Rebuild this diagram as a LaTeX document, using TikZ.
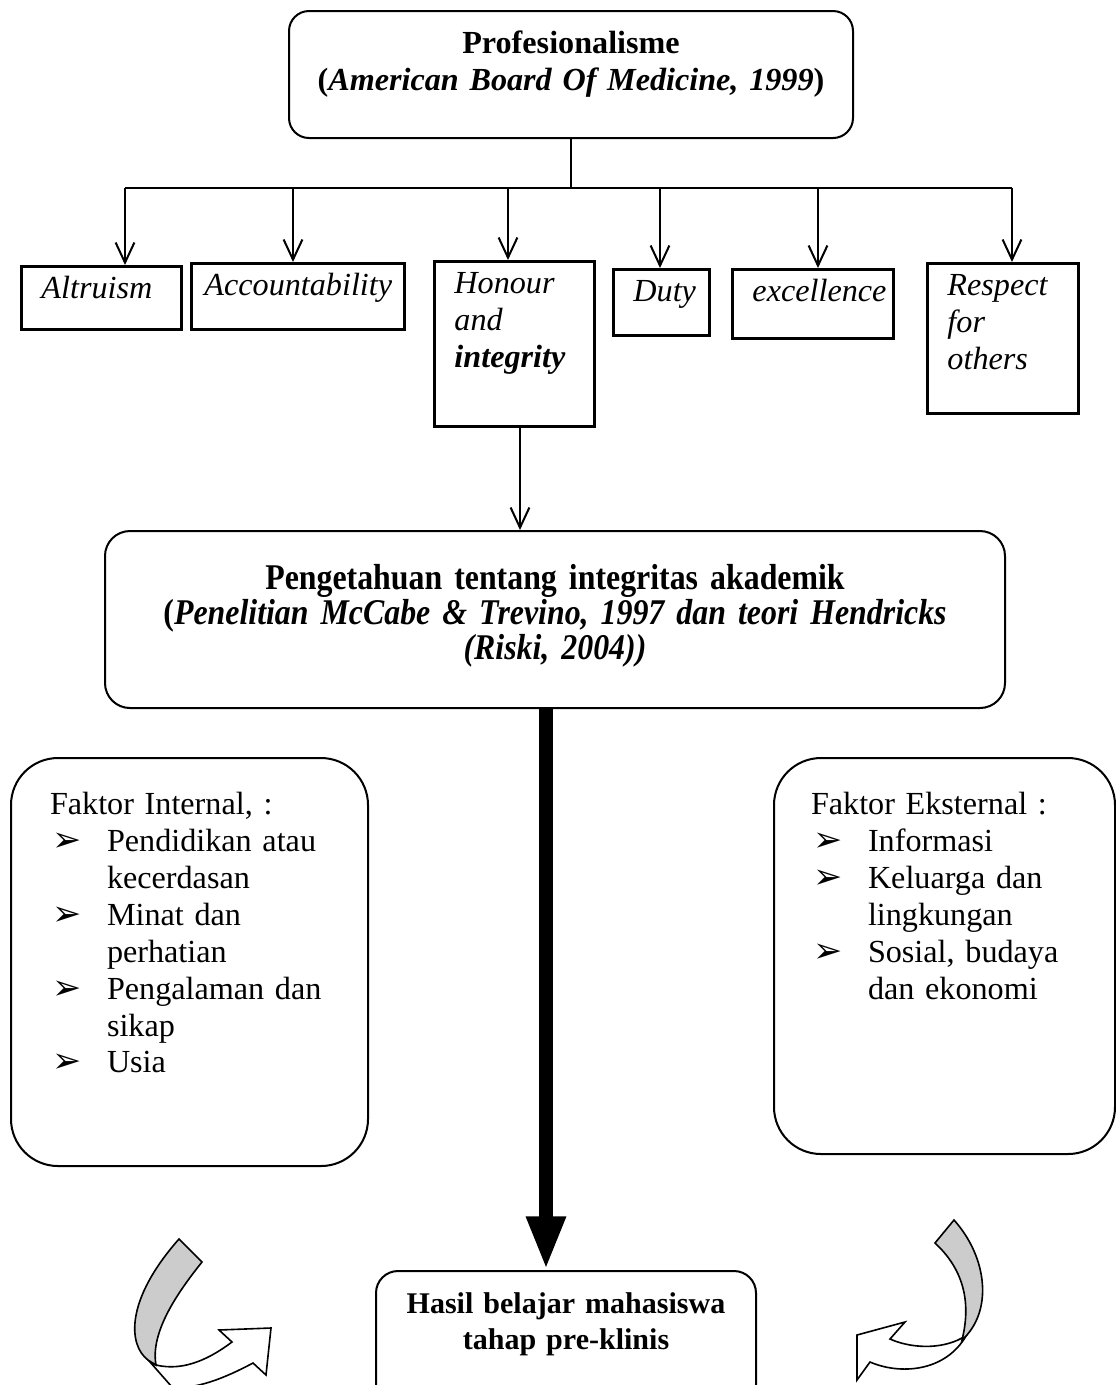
\documentclass[tikz,border=0pt]{standalone}
\usepackage{fontspec}
\setmainfont{Liberation Serif}
\newfontfamily\narrowfont[FakeStretch=0.88,WordSpace=0.8]{Liberation Serif}
\newfontfamily\symfont{DejaVu Sans}
\usepackage{tikz}
\usetikzlibrary{arrows.meta}
\newlength{\pix}
\setlength{\pix}{0.373pt}
\newcommand{\bul}{{\symfont\fontsize{13}{13.8}\selectfont ➢}}
\newcommand{\itm}[1]{\hspace*{2\pix}\makebox[55\pix][l]{\bul}#1}
\newcommand{\cnt}[1]{\hspace*{57\pix}#1}

\begin{document}
\fontsize{12}{13.8}\selectfont
\begin{tikzpicture}[x=0.373pt,y=-0.373pt,
	conn/.style={line width=0.75pt},
	arr/.style={conn, -{Straight Barb[length=7.5pt,width=7pt]}},
	big/.style={line width=5.2pt, -{Triangle[width=13.5pt,length=20pt]}},
	vbox/.style={draw, line width=1.1pt, anchor=north west, align=left, font=\itshape, inner xsep=20\pix, inner ysep=10\pix, text height=22\pix},
	rbox/.style={draw, line width=0.75pt, rounded corners=20\pix, anchor=north west, align=center, font=\bfseries, inner xsep=20\pix},
	fbox/.style={draw, line width=0.75pt, rounded corners=47\pix, anchor=north west, align=left, inner ysep=20\pix, text height=36\pix},
	curl/.style={line width=0.6pt}]
			\path[use as bounding box, clip] (0,0) rectangle (1116,1385);
			
			\node[rbox, text width=524\pix, inner ysep=16\pix, text height=26\pix, text depth=69\pix](prof) at (288,10) {Profesionalisme\\(\textit{American Board Of Medicine, 1999})};
			
			\coordinate[](a1) at (125,188);
			\coordinate[](a2) at (293,188);
			\coordinate[](a3) at (508,188);
			\coordinate[](a4) at (660,188);
			\coordinate[](a5) at (818,188);
			\coordinate[](a6) at (1012,188);
			
			\node[vbox, text width=120\pix, text depth=21\pix](altruism) at (20,265) {Altruism};
			\node[vbox, inner xsep=13\pix, text width=187\pix, text depth=24\pix](account) at (190,262) {Accountability};
			\node[vbox, text width=120\pix, text depth=123\pix](honour) at (433,260) {Honour\\and\\\textbf{integrity}};
			\node[vbox, text width=56\pix, text depth=24\pix](duty) at (612,268) {Duty};
			\node[vbox, text width=121\pix, text depth=27\pix](excel) at (731,268) {excellence};
			\node[vbox, text width=111\pix, text depth=108\pix](respect) at (926,262) {Respect\\for\\others};
			
			\draw[conn](prof.south)--(prof.south |- a1);
			\draw[conn](a1)--(a6);
			\draw[arr](a1)--(a1 |- altruism.north);
			\draw[arr](a2)--(a2 |- account.north);
			\draw[arr](a3)--(a3 |- honour.north);
			\draw[arr](a4)--(a4 |- duty.north);
			\draw[arr](a5)--(a5 |- excel.north);
			\draw[arr](a6)--(a6 |- respect.north);
			
			\node[rbox, rounded corners=25\pix, text width=860\pix, inner ysep=22\pix, text height=36\pix, text depth=97\pix, font={\narrowfont\bfseries\fontsize{13.5}{13.2}\selectfont\lineskiplimit=-8pt}](mid) at (104,530) {Pengetahuan tentang integritas akademik\\(\textit{Penelitian McCabe \& Trevino, 1997 dan teori Hendricks}\\\textit{(Riski, 2004))}};
			
			\coordinate[](hx) at (520,0);
			\draw[arr](honour.south -| hx)--(mid.north -| hx);
			
			\node[fbox, inner xsep=39\pix, text width=279\pix, text depth=332\pix](intern) at (10,757) {Faktor Internal, :\\\itm{Pendidikan atau}\\\cnt{kecerdasan}\\\itm{Minat dan}\\\cnt{perhatian}\\\itm{Pengalaman dan}\\\cnt{sikap}\\\itm{Usia}};
			\node[fbox, inner xsep=37\pix, text width=267\pix, text depth=320\pix](extern) at (773,757) {Faktor Eksternal :\\\itm{Informasi}\\\itm{Keluarga dan}\\\cnt{lingkungan}\\\itm{Sosial, budaya}\\\cnt{dan ekonomi}};
			
			\node[rbox, rounded corners=22\pix, inner xsep=10\pix, text width=360\pix, inner ysep=12\pix, text height=30\pix, text depth=150\pix, font={\bfseries\fontsize{11.2}{13.5}\selectfont}](hasil) at (375,1270) {Hasil belajar mahasiswa\\tahap pre-klinis};
			
			\coordinate[](tx) at (546,0);
			\draw[big](mid.south -| tx)--(hasil.north -| tx);
			
			\draw[curl, fill=white](156,1365) .. controls (185,1372) and (212,1357) .. (232,1342) -- (219,1330) -- (271,1328) -- (266,1375) -- (253,1363) .. controls (225,1378) and (195,1390) .. (172,1387) -- (150,1362) -- cycle;
			\draw[curl, fill=black!20](179,1239) -- (202,1262) .. controls (178,1292) and (150,1332) .. (156,1365) -- (148,1360) .. controls (128,1345) and (125,1300) .. (179,1239) -- cycle;
			
			\draw[curl, fill=white](962,1338) .. controls (940,1350) and (910,1348) .. (890,1339) -- (905,1322) -- (857,1335) -- (857,1380) -- (870,1362) .. controls (900,1375) and (945,1372) .. (966,1336) -- cycle;
			\draw[curl, fill=black!20](935,1243) -- (954,1220) .. controls (988,1258) and (993,1312) .. (962,1340) .. controls (972,1300) and (962,1268) .. (935,1243) -- cycle;
\end{tikzpicture}
\end{document}
